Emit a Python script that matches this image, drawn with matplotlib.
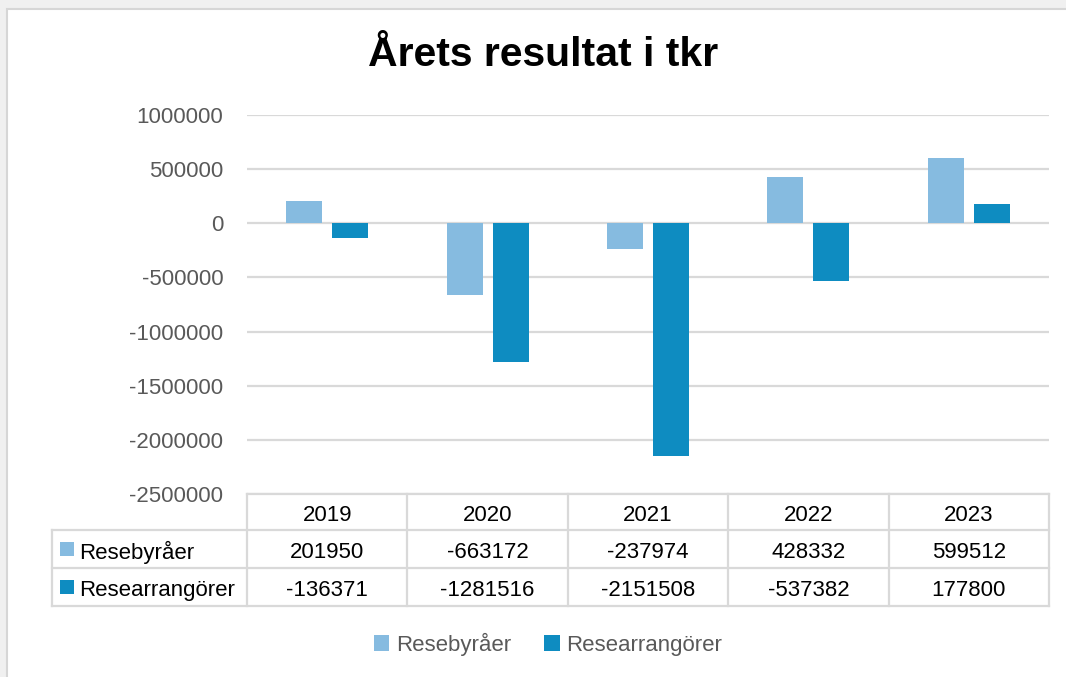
import numpy as np
import matplotlib
matplotlib.use('Agg')
import matplotlib.pyplot as plt
from matplotlib.lines import Line2D
from matplotlib.patches import Rectangle

plt.rcParams['font.family'] = ['Liberation Sans', 'DejaVu Sans']

W, H = 1066, 677

years = ['2019', '2020', '2021', '2022', '2023']
series = ['Resebyråer', 'Researrangörer']
resebyraer = [201950, -663172, -237974, 428332, 599512]
researrangorer = [-136371, -1281516, -2151508, -537382, 177800]
colors = ['#86BBE0', '#0E8CC1']
yticks = [1000000, 500000, 0, -500000, -1000000, -1500000, -2000000, -2500000]

GRID = '#d9d9d9'
TXT = '#595959'
FS = 16


def fx(x):
    return x / W


def fy(y):
    return 1 - y / H


fig = plt.figure(figsize=(W / 100, H / 100), dpi=100)
fig.patch.set_facecolor('#f0f0f0')
fig.patches.append(Rectangle((fx(7), fy(H + 5)), fx(W), (H + 5 - 9) / H,
                             transform=fig.transFigure, figure=fig, facecolor='white',
                             edgecolor='#d6d6d6', linewidth=1.5, zorder=-5))

# plot area
L, R, T, B = 247, 1049, 115, 494
ax = fig.add_axes([fx(L), fy(B), (R - L) / W, (B - T) / H])
ax.set_facecolor('none')
x = np.arange(len(years))
ax.bar(x - 0.143, resebyraer, width=0.224, color=colors[0], zorder=3)
ax.bar(x + 0.143, researrangorer, width=0.224, color=colors[1], zorder=3)
ax.set_xlim(-0.5, len(years) - 0.5)
ax.set_ylim(-2500000, 1000000)
ax.set_yticks(yticks)
ax.set_yticklabels([str(v) for v in yticks], fontsize=FS, color=TXT)
ax.yaxis.grid(True, color=GRID, linewidth=1.6, zorder=0)
ax.tick_params(axis='y', length=0, pad=17)
ax.set_xticks([])
for s in ax.spines.values():
    s.set_visible(False)

fig.text(fx(543), fy(55), 'Årets resultat i tkr', ha='center', va='center',
         fontsize=29.5, fontweight='bold', color='black')

# data table
cols = np.linspace(L, R, len(years) + 1)
rows = [494, 530, 568, 606]
tab_left = 52


def hline(x0, x1, y):
    fig.add_artist(Line2D([fx(x0), fx(x1)], [fy(y), fy(y)], color=GRID, linewidth=1.6,
                          transform=fig.transFigure))


def vline(xp, y0, y1):
    fig.add_artist(Line2D([fx(xp), fx(xp)], [fy(y0), fy(y1)], color=GRID, linewidth=1.6,
                          transform=fig.transFigure))


hline(L, R, rows[0])
for yy in rows[1:]:
    hline(tab_left, R, yy)
for cx in cols:
    vline(cx, rows[0], rows[-1])
vline(tab_left, rows[1], rows[-1])

for i, yr in enumerate(years):
    cx = (cols[i] + cols[i + 1]) / 2
    fig.text(fx(cx), fy((rows[0] + rows[1]) / 2 + 1), yr, ha='center', va='center_baseline',
             fontsize=FS, color='black')
    for j, vals in enumerate([resebyraer, researrangorer]):
        fig.text(fx(cx), fy((rows[j + 1] + rows[j + 2]) / 2 + 1), str(vals[i]),
                 ha='center', va='center_baseline', fontsize=FS, color='black')

for j, name in enumerate(series):
    yc = (rows[j + 1] + rows[j + 2]) / 2
    fig.add_artist(Rectangle((fx(60), fy(yc + 7)), 14 / W, 14 / H, transform=fig.transFigure,
                             facecolor=colors[j], edgecolor='none'))
    fig.text(fx(79), fy(yc + 1), name, ha='left', va='center_baseline', fontsize=FS, color='black')

# legend
handles = [Rectangle((0, 0), 1, 1, facecolor=c, edgecolor='none') for c in colors]
fig.legend(handles, series, loc='center', bbox_to_anchor=(fx(548), fy(644)), ncol=2,
           frameon=False, fontsize=FS, labelcolor=TXT, handlelength=0.7,
           handleheight=0.7, handletextpad=0.3, columnspacing=1.5)

fig.savefig('out.png', dpi=100, facecolor=fig.get_facecolor())
